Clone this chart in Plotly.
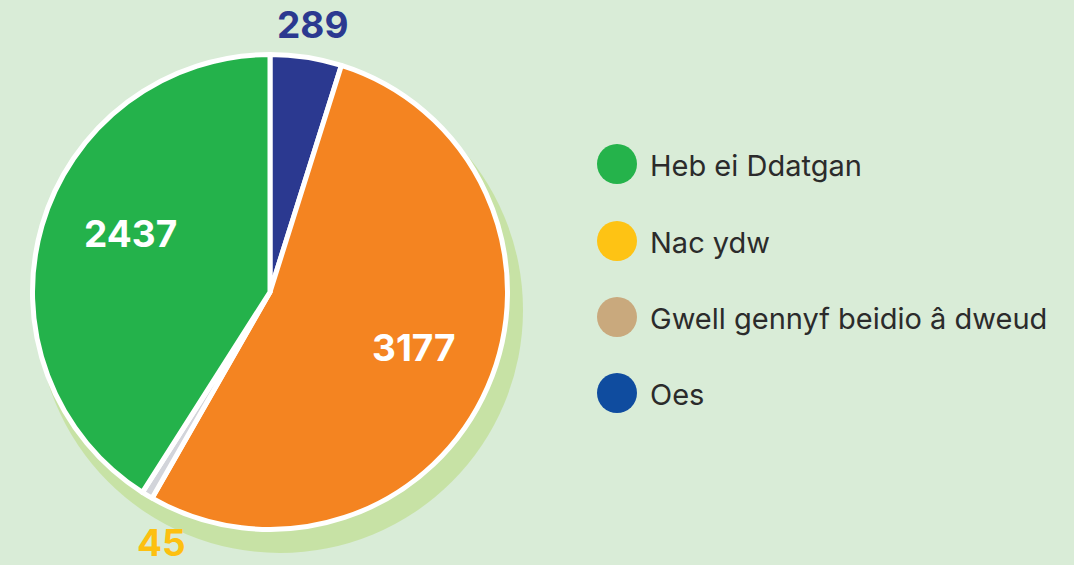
import plotly.graph_objects as go

W, H = 1074, 565

# Data
slice_labels = ["Oes", "Nac ydw", "Gwell gennyf beidio â dweud", "Heb ei Ddatgan"]
slice_values = [289, 3177, 45, 2437]
slice_colors = ["#2b3990", "#f48421", "#d2d4da", "#24b24b"]
value_label_colors = ["#2b3990", "#ffffff", "#fdc010", "#ffffff"]

legend_labels = ["Heb ei Ddatgan", "Nac ydw", "Gwell gennyf beidio â dweud", "Oes"]
legend_colors = ["#25b34b", "#fec314", "#c9a97d", "#0f4c9f"]

BG = "#d9ecd7"
SHADOW = "#c7e2a5"

def px(x):
    return x / W

def py(y):
    return 1 - y / H

fig = go.Figure()

fig.add_trace(go.Pie(
    labels=slice_labels,
    values=slice_values,
    sort=False,
    direction="clockwise",
    rotation=0,
    marker=dict(colors=slice_colors, line=dict(color="#ffffff", width=5)),
    textinfo="none",
    hoverinfo="label+value",
    showlegend=False,
    domain=dict(x=[px(32.5), px(507.5)], y=[py(529.5), py(54.5)]),
))

shapes = []
# shadow circle behind the pie
shapes.append(dict(type="circle", xref="paper", yref="paper",
                   x0=px(280 - 243), x1=px(280 + 243),
                   y0=py(310 + 243), y1=py(310 - 243),
                   fillcolor=SHADOW, line=dict(width=0), layer="below"))

annotations = []
# value labels
label_pos = [(312, 25), (414, 347), (161, 542), (130, 233)]
for v, c, (x, y) in zip(slice_values, value_label_colors, label_pos):
    annotations.append(dict(x=px(x), y=py(y), xref="paper", yref="paper",
                            text=f"<b>{v}</b>", showarrow=False,
                            xanchor="center", yanchor="middle",
                            font=dict(family="Inter", size=37, color=c)))

# custom legend
row_y = [164, 241, 317, 393]
for lab, col, y in zip(legend_labels, legend_colors, row_y):
    shapes.append(dict(type="circle", xref="paper", yref="paper",
                       x0=px(597), x1=px(637), y0=py(y + 20), y1=py(y - 20),
                       fillcolor=col, line=dict(width=0)))
    annotations.append(dict(x=px(648), y=py(y + 1), xref="paper", yref="paper",
                            text=lab, showarrow=False,
                            xanchor="left", yanchor="middle",
                            font=dict(family="Inter", size=29, color="#2b2b2b")))

fig.update_layout(
    width=W, height=H,
    margin=dict(l=0, r=0, t=0, b=0),
    paper_bgcolor=BG, plot_bgcolor=BG,
    shapes=shapes, annotations=annotations,
    showlegend=False,
)

fig.write_html(
    "out.html",
    config={"displayModeBar": False},
    post_script="document.body.style.margin='0';document.body.style.overflow='hidden';",
)
